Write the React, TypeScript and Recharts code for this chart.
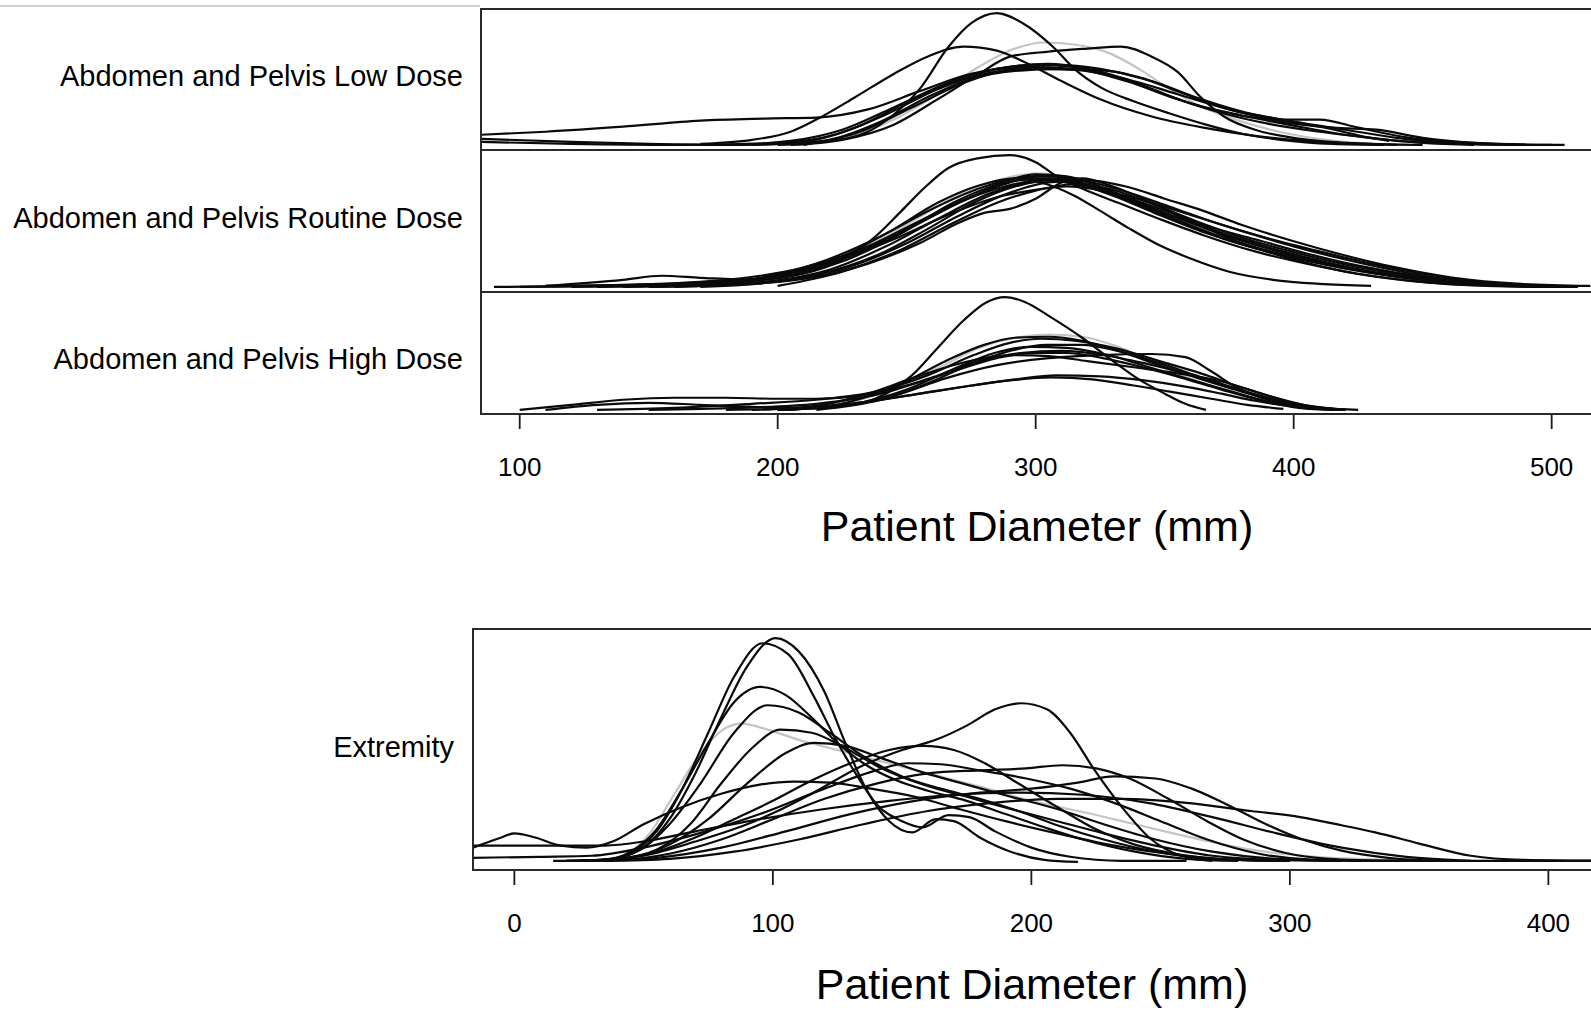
import { Line, LineChart, XAxis, YAxis } from 'recharts';

type Pt = [number, number];

// x in mm, y in panel-relative density units (0 = panel bottom)
const lowDose: Pt[][] = [
  [[180,5],[200,6],[220,9],[235,18],[245,35],[255,60],[266,101],[275,125],[285,135],[295,125],[307,101],[315,80],[325,62],[338,48],[352,36],[366,25],[380,16],[395,10],[415,6],[435,5]],
  [[170,6],[190,10],[205,18],[215,30],[230,52],[245,75],[258,92],[272,102],[285,98],[297,85],[310,68],[325,50],[345,33],[365,22],[385,14],[405,9],[430,6],[450,5]],
  [[85,15],[110,18],[140,23],[170,29],[195,31],[215,32],[235,40],[255,58],[275,75],[295,82],[315,80],[335,68],[355,50],[375,36],[395,30],[410,30],[425,22],[445,12],[470,7],[500,5]],
  [[200,5],[225,12],[245,30],[262,55],[278,82],[292,100],[303,106],[315,104],[328,96],[340,80],[352,60],[365,42],[380,28],[400,15],[420,8],[445,5]],
  [[205,5],[225,10],[245,25],[262,50],[278,75],[290,92],[305,97],[320,100],[333,102],[345,92],[355,77],[364,52],[373,33],[385,20],[400,12],[420,7],[440,5]],
  [[85,11],[120,8],[150,6],[180,5],[205,9],[225,20],[245,42],[265,65],[285,80],[300,84],[315,82],[330,73],[345,60],[360,46],[380,34],[400,24],[420,15],[440,9],[465,6],[490,5]],
  [[190,5],[210,8],[230,22],[250,47],[270,70],[290,82],[305,85],[320,80],[335,70],[350,55],[370,38],[390,26],[410,18],[430,12],[450,7],[470,5]],
  [[200,5],[220,10],[240,28],[258,52],[275,70],[292,78],[310,80],[328,78],[345,68],[362,52],[380,38],[400,28],[420,20],[440,12],[460,7],[485,5],[505,5]],
  [[85,8],[120,6],[160,5],[200,7],[222,15],[242,35],[262,60],[282,76],[298,80],[315,79],[335,70],[355,55],[375,40],[395,28],[415,22],[432,20],[450,12],[470,7],[490,5]],
  [[210,5],[232,18],[252,42],[272,66],[290,80],[308,84],[325,80],[342,70],[358,55],[375,40],[395,30],[412,22],[430,12],[437,9]],
];
const lowDoseGray = [3];

const routineDose: Pt[][] = [
  [[110,6],[140,12],[155,16],[170,14],[190,12],[210,18],[225,32],[238,55],[248,80],[257,103],[266,122],[278,132],[290,135],[300,128],[307,116],[318,102],[332,88],[348,72],[365,56],[385,40],[405,28],[425,18],[450,10],[480,6],[510,5]],
  [[150,5],[190,8],[215,15],[235,28],[255,48],[270,68],[280,78],[290,82],[300,92],[310,108],[318,112],[330,104],[345,88],[362,68],[380,48],[400,32],[420,20],[445,11],[475,6],[505,5]],
  [[130,5],[170,8],[200,16],[225,35],[245,62],[262,88],[278,105],[292,112],[302,108],[315,95],[325,80],[336,63],[348,46],[360,33],[375,20],[392,12],[410,8],[430,6]],
  [[100,5],[150,7],[190,13],[215,28],[240,55],[260,82],[278,102],[295,113],[308,114],[320,106],[335,92],[350,78],[370,60],[390,44],[410,31],[430,20],[455,12],[480,7],[510,5]],
  [[120,5],[170,8],[200,14],[225,30],[248,58],[268,88],[285,106],[300,116],[312,114],[325,104],[340,88],[358,70],[378,52],[400,36],[420,24],[445,14],[470,8],[500,5]],
  [[90,5],[140,7],[180,12],[210,24],[235,45],[255,70],[275,94],[293,110],[305,112],[318,107],[332,96],[348,82],[365,66],[385,52],[405,38],[425,26],[450,15],[478,8],[510,5]],
  [[140,5],[185,10],[210,20],[232,40],[252,65],[270,88],[288,104],[302,110],[316,106],[330,95],[346,78],[364,60],[384,44],[404,32],[426,21],[450,12],[475,7],[500,5]],
  [[160,5],[195,10],[220,22],[242,45],[262,72],[282,97],[298,109],[310,112],[322,108],[336,98],[352,84],[370,68],[390,53],[410,40],[430,28],[455,16],[480,8],[510,5]],
  [[110,6],[160,8],[195,14],[222,30],[245,52],[265,75],[283,92],[298,100],[312,104],[326,100],[342,90],[360,76],[380,60],[400,45],[420,32],[442,20],[468,10],[495,6]],
  [[130,6],[175,9],[205,18],[230,38],[252,64],[272,90],[290,108],[303,115],[315,112],[328,100],[342,84],[358,67],[376,50],[396,36],[418,24],[440,15],[465,9],[490,6]],
  [[150,5],[190,9],[215,17],[240,38],[258,62],[276,88],[292,104],[306,110],[320,105],[335,92],[350,76],[368,58],[388,42],[408,30],[430,20],[455,11],[482,6],[510,5]],
  [[170,5],[205,12],[228,25],[250,48],[270,75],[288,96],[305,108],[320,110],[335,104],[350,92],[365,80],[380,66],[400,50],[420,36],[440,24],[462,14],[488,8],[515,6]],
  [[140,5],[180,9],[210,20],[235,45],[255,74],[272,98],[288,112],[300,117],[312,113],[326,100],[342,84],[360,66],[380,50],[400,36],[422,24],[445,14],[470,8],[500,5]],
  [[200,6],[225,20],[248,42],[268,68],[285,88],[300,100],[314,106],[328,102],[344,88],[362,70],[382,52],[402,38],[424,25],[448,15],[475,8],[505,5]],
];
const routineDoseGray = [12];

const highDose: Pt[][] = [
  [[200,4],[225,8],[242,20],[252,38],[262,65],[272,92],[281,110],[288,115],[296,110],[306,95],[318,75],[330,52],[340,34],[350,20],[358,10],[366,4]],
  [[200,4],[225,10],[245,25],[262,45],[278,65],[292,75],[305,78],[318,76],[332,66],[346,50],[360,35],[375,22],[390,12],[405,6],[420,4]],
  [[205,4],[228,12],[248,30],[265,52],[280,68],[292,75],[305,76],[318,72],[332,62],[348,48],[362,36],[376,25],[390,15],[405,8],[420,4]],
  [[190,4],[215,8],[235,20],[252,35],[268,48],[282,56],[292,58],[305,57],[320,52],[338,46],[355,40],[372,32],[385,22],[398,12],[412,6],[425,4]],
  [[200,4],[225,8],[245,18],[265,35],[285,48],[305,55],[325,58],[345,59],[358,56],[368,42],[378,26],[390,14],[405,7],[420,4]],
  [[180,4],[210,6],[235,12],[255,20],[275,28],[292,34],[308,38],[325,37],[342,33],[358,27],[372,20],[385,13],[398,8],[412,5]],
  [[200,4],[228,10],[250,18],[270,26],[290,33],[306,36],[322,34],[338,28],[352,22],[368,15],[382,9],[396,5]],
  [[100,4],[120,9],[140,14],[160,16],[180,16],[200,15],[215,15],[232,18],[250,28],[268,42],[285,55],[298,60],[312,60],[326,55],[340,47],[356,36],[372,24],[388,13],[402,6],[416,4]],
  [[110,4],[130,9],[150,11],[170,9],[190,7],[210,6],[230,10],[250,24],[268,44],[284,60],[298,66],[312,65],[328,58],[344,46],[360,34],[376,22],[392,11],[408,5]],
  [[130,4],[160,6],[190,10],[215,14],[238,22],[258,38],[276,58],[290,70],[302,74],[316,72],[332,64],[348,52],[364,40],[380,26],[396,14],[410,6],[420,4]],
  [[150,4],[185,6],[215,10],[240,20],[260,36],[278,52],[294,60],[310,62],[326,58],[342,50],[358,40],[374,28],[390,16],[405,8],[418,4]],
  [[215,4],[240,14],[258,30],[274,48],[290,62],[304,68],[318,68],[332,62],[348,50],[362,38],[376,26],[390,15],[404,7],[415,4]],
];
const highDoseGray = [1];

const extremity: Pt[][] = [
  [[30,9],[40,12],[50,22],[60,50],[70,95],[80,150],[90,200],[101,228],[110,215],[120,175],[128,125],[136,80],[145,48],[154,37],[163,50],[170,48],[180,32],[192,18],[205,10],[218,8]],
  [[35,9],[45,16],[55,38],[65,80],[75,135],[85,190],[96,223],[106,212],[116,170],[124,130],[132,95],[140,65],[150,48],[158,42],[168,54],[176,52],[186,38],[200,22],[215,13],[235,9],[260,9]],
  [[20,9],[35,10],[45,18],[55,40],[65,80],[75,125],[85,165],[95,180],[105,172],[115,150],[125,125],[135,105],[148,88],[160,78],[175,68],[190,55],[205,42],[220,30],[240,18],[260,11],[280,9]],
  [[25,9],[40,12],[50,22],[60,45],[72,85],[85,135],[98,162],[110,155],[122,135],[135,112],[150,92],[165,80],[180,70],[195,58],[210,44],[228,30],[248,18],[270,11],[300,9]],
  [[30,9],[42,14],[52,35],[62,75],[72,115],[82,140],[88,144],[98,138],[110,128],[125,118],[140,108],[160,95],[180,82],[200,68],[220,57],[240,45],[260,33],[285,20],[310,13],[340,10],[370,9]],
  [[25,9],[40,11],[55,20],[68,45],[80,85],[92,120],[103,138],[115,135],[128,120],[142,100],[158,84],[175,72],[192,60],[210,48],[228,36],[248,24],[270,14],[295,10],[320,9]],
  [[30,9],[45,12],[60,25],[75,50],[90,85],[105,115],[116,125],[128,122],[142,110],[158,96],[175,84],[192,72],[210,60],[228,45],[248,30],[270,18],[295,11],[325,9],[350,9]],
  [[-16,22],[-5,32],[0,36],[8,32],[18,24],[28,22],[38,28],[50,45],[65,62],[80,75],[95,84],[108,87],[122,86],[138,80],[155,72],[172,60],[190,48],[210,36],[230,25],[250,17],[272,11],[300,9]],
  [[30,9],[50,14],[70,28],[90,45],[101,57],[115,75],[135,103],[150,118],[163,128],[175,142],[186,158],[196,164],[206,158],[215,135],[224,100],[235,62],[246,31],[258,14],[270,9]],
  [[20,9],[40,11],[55,18],[70,32],[85,50],[100,68],[115,88],[130,105],[145,118],[158,122],[170,118],[182,105],[195,85],[210,62],[225,40],[240,25],[258,15],[280,10],[300,9]],
  [[15,9],[40,10],[60,16],[80,30],[100,50],[120,70],[140,85],[160,95],[180,98],[198,100],[212,103],[225,100],[238,90],[253,70],[268,48],[282,30],[298,17],[315,11],[340,9]],
  [[30,9],[55,12],[80,22],[105,38],[130,55],[155,68],[180,76],[200,80],[218,86],[232,92],[248,90],[262,80],[276,64],[290,46],[305,30],[320,19],[338,12],[360,9]],
  [[35,9],[60,11],[85,18],[110,30],[135,45],[160,58],[185,66],[210,70],[235,70],[260,66],[285,58],[304,52],[320,44],[333,37],[350,26],[370,14],[390,10],[425,9]],
  [[-16,24],[0,24],[20,24],[35,24],[50,28],[70,38],[95,50],[120,60],[145,68],[170,74],[195,76],[220,74],[245,66],[270,52],[295,36],[320,22],[345,13],[370,9]],
  [[-16,12],[10,13],[30,14],[50,22],[70,35],[95,55],[120,80],[140,98],[152,105],[165,104],[180,98],[198,90],[215,80],[232,66],[250,48],[268,30],[288,16],[310,10],[340,9],[370,9],[420,9]],
];
const extremityGray = [4];

const abdomenTicks = [100, 200, 300, 400, 500];
const extremityTicks = [0, 100, 200, 300, 400];

const FONT = "'Liberation Sans', Arial, Helvetica, sans-serif";
const AXIS_H = 80;

interface PanelProps {
  curves: Pt[][];
  gray: number[];
  xDomain: [number, number];
  yMax: number;
  width: number;
  height: number;
  ticks?: number[];
}

function DensityPanel({ curves, gray, xDomain, yMax, width, height, ticks }: PanelProps) {
  // gray curves first so the black ones sit on top
  const order = curves.map((_, i) => i).sort((a, b) => Number(gray.includes(b)) - Number(gray.includes(a)));
  return (
    <LineChart width={width} height={height + (ticks ? AXIS_H : 0)} margin={{ top: 0, right: 0, bottom: 0, left: 0 }}>
      <XAxis
        type="number"
        dataKey="x"
        domain={xDomain}
        allowDataOverflow
        hide={!ticks}
        ticks={ticks}
        interval={0}
        height={AXIS_H}
        axisLine={false}
        tickLine={{ stroke: '#1a1a1a', strokeWidth: 1.8 }}
        tickSize={15}
        tickMargin={29}
        tick={{ fontSize: 26, fill: '#000', fontFamily: FONT }}
      />
      <YAxis type="number" domain={[0, yMax]} allowDataOverflow hide />
      {order.map((i) => (
        <Line
          key={i}
          data={curves[i].map(([x, y]) => ({ x, y }))}
          dataKey="y"
          type="monotone"
          stroke={gray.includes(i) ? '#c4c4c4' : '#0a0a0a'}
          strokeWidth={2.2}
          dot={false}
          activeDot={false}
          isAnimationActive={false}
        />
      ))}
    </LineChart>
  );
}

const labelStyle: React.CSSProperties = {
  position: 'absolute',
  fontFamily: FONT,
  fontSize: 29,
  color: '#000',
  textAlign: 'right',
  whiteSpace: 'nowrap',
  lineHeight: '34px',
};

const titleStyle: React.CSSProperties = {
  position: 'absolute',
  fontFamily: FONT,
  fontSize: 43,
  color: '#000',
  textAlign: 'center',
  whiteSpace: 'nowrap',
  lineHeight: '50px',
  width: 600,
};

export default function App() {
  return (
    <div style={{ position: 'fixed', left: 0, top: 0, width: 1591, height: 1010, overflow: 'hidden', background: '#fff' }}>
      <div style={{ position: 'absolute', left: 0, top: 5, width: 480, height: 0, borderTop: '2px solid #d0d0d0' }} />

      <div style={{ ...labelStyle, right: 1591 - 463, top: 76 - 17 }}>Abdomen and Pelvis Low Dose</div>
      <div style={{ ...labelStyle, right: 1591 - 463, top: 218 - 17 }}>Abdomen and Pelvis Routine Dose</div>
      <div style={{ ...labelStyle, right: 1591 - 463, top: 359 - 17 }}>Abdomen and Pelvis High Dose</div>
      <div style={{ ...labelStyle, right: 1591 - 454, top: 747 - 17 }}>Extremity</div>

      {/* stacked abdomen panels */}
      <div style={{ position: 'absolute', left: 481, top: 9 }}>
        <DensityPanel curves={lowDose} gray={lowDoseGray} xDomain={[85, 523]} yMax={139} width={1130} height={141} />
      </div>
      <div style={{ position: 'absolute', left: 481, top: 150 }}>
        <DensityPanel curves={routineDose} gray={routineDoseGray} xDomain={[85, 523]} yMax={140} width={1130} height={142} />
      </div>
      <div style={{ position: 'absolute', left: 481, top: 292 }}>
        <DensityPanel curves={highDose} gray={highDoseGray} xDomain={[85, 523]} yMax={120} width={1130} height={122} ticks={abdomenTicks} />
      </div>
      <div style={{ position: 'absolute', left: 480, top: 8, width: 1200, height: 403, border: '2px solid #2a2a2a', pointerEvents: 'none' }} />
      <div style={{ position: 'absolute', left: 481, top: 149, width: 1200, height: 0, borderTop: '2px solid #2a2a2a' }} />
      <div style={{ position: 'absolute', left: 481, top: 291, width: 1200, height: 0, borderTop: '2px solid #2a2a2a' }} />
      <div style={{ ...titleStyle, left: 1037 - 300, top: 526 - 25 }}>Patient Diameter (mm)</div>

      {/* extremity panel */}
      <div style={{ position: 'absolute', left: 473, top: 629 }}>
        <DensityPanel curves={extremity} gray={extremityGray} xDomain={[-16, 425]} yMax={237} width={1140} height={241} ticks={extremityTicks} />
      </div>
      <div style={{ position: 'absolute', left: 472, top: 628, width: 1200, height: 239, border: '2px solid #2a2a2a', pointerEvents: 'none' }} />
      <div style={{ ...titleStyle, left: 1032 - 300, top: 984 - 25 }}>Patient Diameter (mm)</div>
    </div>
  );
}
